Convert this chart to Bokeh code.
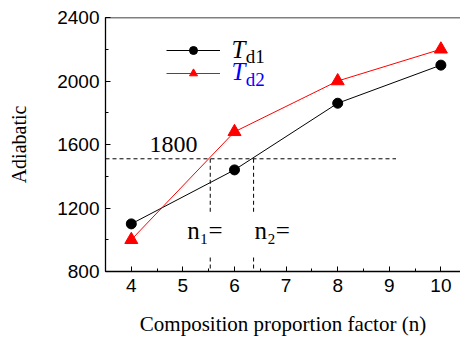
from bokeh.plotting import figure
from bokeh.models import (Range1d, SingleIntervalTicker, Legend, LegendItem, Label, Span)
from bokeh.embed import file_html
from bokeh.resources import INLINE

# ---- data ----
n_values = [4, 6, 8, 10]
td1 = [1100, 1440, 1860, 2100]
td2 = [1000, 1680, 2000, 2200]

# guide lines (value 1800 label, crossing points n1, n2)
guide_y = 1510
guide_x_end = 9.13
n1 = 5.53
n2 = 6.37
vline_upper_bottom = 1162
vline_lower_top = 888

SERIF = "Liberation Serif"
SANS = "Liberation Sans"

p = figure(width=460, height=338, output_backend="svg", toolbar_location=None,
           x_range=Range1d(3.5, 10.38), y_range=Range1d(800, 2400),
           min_border_left=105, min_border_right=0, min_border_top=17, min_border_bottom=65)

p.outline_line_color = None
p.xgrid.visible = False
p.ygrid.visible = False
p.background_fill_color = "white"
p.border_fill_color = "white"

# axes
p.xaxis.ticker = SingleIntervalTicker(interval=1, num_minor_ticks=2)
p.yaxis.ticker = SingleIntervalTicker(interval=400, num_minor_ticks=2)
for ax in (p.xaxis[0], p.yaxis[0]):
    ax.axis_line_color = "black"
    ax.axis_line_width = 1.3
    ax.major_tick_in = 5
    ax.major_tick_out = 0
    ax.minor_tick_in = 3
    ax.minor_tick_out = 0
    ax.major_tick_line_color = "black"
    ax.minor_tick_line_color = "black"
    ax.major_label_text_font = SANS
    ax.major_label_text_font_size = "19px"
    ax.major_label_text_color = "black"
    ax.axis_label_text_font = SERIF
    ax.axis_label_text_font_style = "normal"
    ax.axis_label_text_color = "black"

p.xaxis.axis_label_text_font_size = "21px"
p.yaxis.axis_label_text_font_size = "20px"
p.xaxis.major_label_standoff = 7
p.yaxis.major_label_standoff = 6
p.xaxis.axis_label = "Composition proportion factor (n)"
p.yaxis.axis_label = "Adiabatic"
p.xaxis.axis_label_standoff = 17
p.yaxis.axis_label_standoff = 24

# top spine
p.add_layout(Span(location=2400, dimension="width", line_color="black", line_width=1.3))

# dashed guides
p.line([3.5, guide_x_end], [guide_y, guide_y], line_color="black", line_width=1, line_dash="4 3")
p.line([n1, n1], [guide_y, vline_upper_bottom], line_color="black", line_width=1, line_dash="4 3")
p.line([n2, n2], [guide_y, vline_upper_bottom], line_color="black", line_width=1, line_dash="4 3")
p.line([n1, n1], [vline_lower_top, 800], line_color="black", line_width=1, line_dash="4 3")
p.line([n2, n2], [vline_lower_top, 800], line_color="black", line_width=1, line_dash="4 3")

# series
l1 = p.line(n_values, td1, line_color="black", line_width=1)
s1 = p.scatter(n_values, td1, marker="circle", size=10, fill_color="black", line_color="black")
l2 = p.line(n_values, td2, line_color="#ff0000", line_width=1)
s2 = p.scatter(n_values, td2, marker="triangle", size=13, fill_color="#ff0000", line_color="#ff0000")

legend = Legend(items=[LegendItem(label=" ", renderers=[l1, s1]),
                       LegendItem(label=" ", renderers=[l2, s2])],
                location=(61, 188), glyph_width=54, glyph_height=20, spacing=3,
                padding=0, margin=0, border_line_color=None, background_fill_alpha=0,
                label_width=0, label_standoff=0, label_text_font_size="1px")
p.add_layout(legend, "center")

# legend texts
p.add_layout(Label(x=5.94, y=2112, text="T", text_font=SERIF, text_font_style="italic",
                   text_font_size="25px", text_color="black"))
p.add_layout(Label(x=6.22, y=2087, text="d1", text_font=SERIF,
                   text_font_size="19px", text_color="black"))
p.add_layout(Label(x=5.94, y=1975, text="T", text_font=SERIF, text_font_style="italic",
                   text_font_size="25px", text_color="#0000ff"))
p.add_layout(Label(x=6.22, y=1944, text="d2", text_font=SERIF,
                   text_font_size="19px", text_color="#0000ff"))

# annotations
p.add_layout(Label(x=4.353, y=1550, text="1800", text_font=SERIF, text_font_size="24px",
                   text_color="black"))
p.add_layout(Label(x=5.083, y=975, text="n\u2081=", text_font=SERIF, text_font_size="25px",
                   text_color="black"))
p.add_layout(Label(x=6.39, y=975, text="n\u2082=", text_font=SERIF, text_font_size="25px",
                   text_color="black"))

open("out.html", "w").write(file_html(p, INLINE))
